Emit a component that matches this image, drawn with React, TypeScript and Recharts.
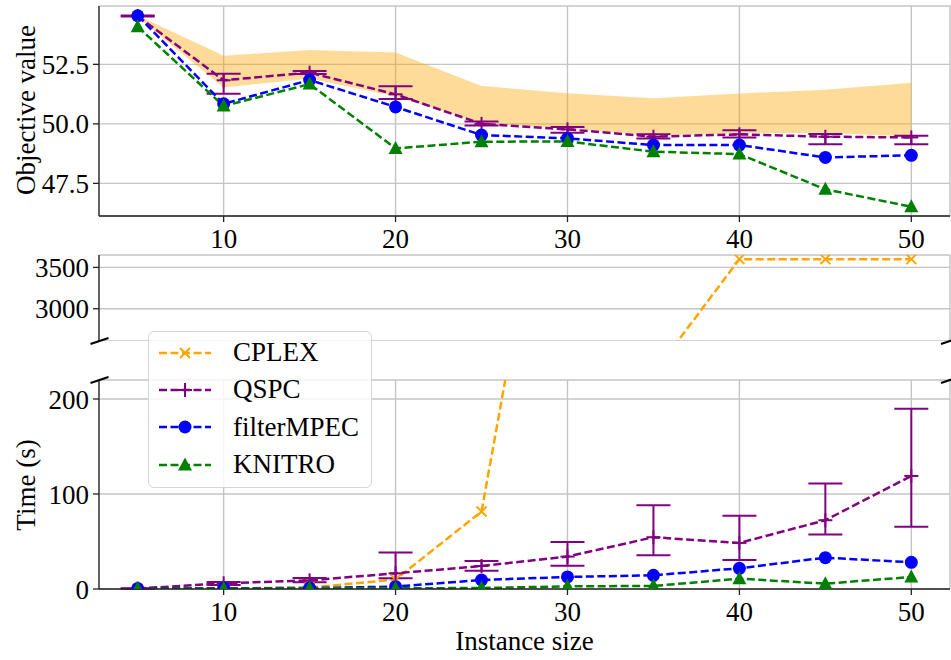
import {
  ComposedChart,
  Line,
  Area,
  XAxis,
  YAxis,
  CartesianGrid,
  ErrorBar,
  Label
} from "recharts"

const sizes = [5, 10, 15, 20, 25, 30, 35, 40, 45, 50]

// objective value panel
const cplexObjLow = [54.47, 51.53, 51.9, 51.15, 50.05, 49.8, 49.52, 49.6, 49.63, 49.47]
const cplexObjHigh = [54.55, 52.86, 53.1, 53.0, 51.59, 51.29, 51.08, 51.28, 51.43, 51.73]
const qspcObj = [54.53, 51.83, 52.15, 51.24, 50.0, 49.77, 49.46, 49.56, 49.46, 49.43]
const qspcObjLow = [54.51, 51.26, 52.09, 51.04, 49.93, 49.63, 49.39, 49.43, 49.14, 49.14]
const qspcObjHigh = [54.55, 52.1, 52.22, 51.58, 50.1, 49.87, 49.56, 49.73, 49.57, 49.5]
const filterObj = [54.54, 50.84, 51.84, 50.71, 49.53, 49.39, 49.11, 49.11, 48.59, 48.68]
const knitroObj = [54.08, 50.75, 51.67, 48.97, 49.25, 49.26, 48.83, 48.73, 47.25, 46.52]

// time panels (s)
const cplexTime = [0.3, 0.5, 1.5, 10, 81.5, 583, 2217, 3600, 3600, 3600]
const qspcTime = [0.5, 6.0, 9.1, 16.5, 24.2, 34.1, 54.5, 48.5, 72.4, 119]
const qspcTimeLow = [0.3, 4.2, 7.0, 11.2, 19.3, 24.6, 35.5, 30.6, 57.3, 65.4]
const qspcTimeHigh = [0.8, 7.4, 11.6, 38.3, 29.5, 49.6, 88.2, 77.0, 111, 189.8]
const filterTime = [0.5, 0.8, 1.0, 2.5, 9.5, 12.7, 14.4, 21.8, 33.0, 28.1]
const knitroTime = [0.3, 0.5, 0.7, 0.8, 1.0, 2.8, 3.2, 10.9, 5.6, 12.7]

const xTicks = [10, 20, 30, 40, 50]
const objTicks = [47.5, 50, 52.5]
const timeUpperTicks = [3000, 3500]
const timeLowerTicks = [0, 100, 200]

const X_DOMAIN = [2.75, 52.25]
const ORANGE = "#ffa500"
const PURPLE = "#800080"
const BLUE = "#0000ff"
const GREEN = "#008000"
const FONT = "'Liberation Serif', 'Times New Roman', serif"
const SPINE = "#222"
const GRID = "#c4c4c4"
const DASH = "8 3.5"

const objData = sizes.map((x, i) => ({
  x,
  band: [cplexObjLow[i], cplexObjHigh[i]],
  qspc: qspcObj[i],
  qspcErr: [qspcObj[i] - qspcObjLow[i], qspcObjHigh[i] - qspcObj[i]],
  filter: filterObj[i],
  knitro: knitroObj[i]
}))

const timeData = sizes.map((x, i) => ({
  x,
  cplex: cplexTime[i],
  qspc: qspcTime[i],
  qspcErr: [qspcTime[i] - qspcTimeLow[i], qspcTimeHigh[i] - qspcTime[i]],
  filter: filterTime[i],
  knitro: knitroTime[i]
}))

const XMark = ({ cx, cy }: any) => (
  <g stroke={ORANGE} strokeWidth={2}>
    <line x1={cx - 5} y1={cy - 5} x2={cx + 5} y2={cy + 5} />
    <line x1={cx - 5} y1={cy + 5} x2={cx + 5} y2={cy - 5} />
  </g>
)
const PlusMark = ({ cx, cy }: any) => (
  <g stroke={PURPLE} strokeWidth={2}>
    <line x1={cx - 7} y1={cy} x2={cx + 7} y2={cy} />
    <line x1={cx} y1={cy - 7} x2={cx} y2={cy + 7} />
  </g>
)
const CircleMark = ({ cx, cy }: any) => <circle cx={cx} cy={cy} r={6.5} fill={BLUE} />
const TriMark = ({ cx, cy }: any) => (
  <polygon points={`${cx},${cy - 7.5} ${cx + 7},${cy + 5.5} ${cx - 7},${cy + 5.5}`} fill={GREEN} />
)

const markers: Record<string, any> = { CPLEX: XMark, QSPC: PlusMark, filterMPEC: CircleMark, KNITRO: TriMark }
const legendItems = [
  { name: "CPLEX", color: ORANGE },
  { name: "QSPC", color: PURPLE },
  { name: "filterMPEC", color: BLUE },
  { name: "KNITRO", color: GREEN }
]

const dotOf = (name: string) => (p: any) => {
  const M = markers[name]
  return <M key={`${name}-${p.index}`} cx={p.cx} cy={p.cy} />
}

const tickStyle = { fontSize: 27, fill: "#000", fontFamily: FONT }

const title = (text: string, x: number, y: number, rotate = false) => () => (
  <text
    x={x}
    y={y}
    transform={rotate ? `rotate(-90 ${x} ${y})` : undefined}
    textAnchor="middle"
    dominantBaseline="central"
    fontSize={27}
    fontFamily={FONT}
    fill="#000"
  >
    {text}
  </text>
)

const series = (name: string, key: string, color: string, err?: boolean) => (
  <Line
    key={name}
    name={name}
    xAxisId="b"
    yAxisId="l"
    type="linear"
    dataKey={key}
    stroke={color}
    strokeWidth={2.5}
    strokeDasharray={DASH}
    dot={dotOf(name)}
    activeDot={false}
    isAnimationActive={false}
  >
    {err && <ErrorBar dataKey="qspcErr" direction="y" width={17} stroke={PURPLE} strokeWidth={2} />}
  </Line>
)

function ObjectivePanel() {
  return (
    <ComposedChart width={951} height={260} data={objData} margin={{ top: 6, right: 1, bottom: 0, left: 0 }}>
      <CartesianGrid xAxisId="b" yAxisId="l" stroke={GRID} strokeWidth={1.4} />
      <XAxis xAxisId="b" type="number" dataKey="x" domain={X_DOMAIN} ticks={xTicks} allowDataOverflow
        height={44} tickSize={6} tickMargin={7} tick={tickStyle} stroke={SPINE} strokeWidth={1.3} />
      <XAxis xAxisId="t" orientation="top" type="number" dataKey="x" domain={X_DOMAIN} allowDataOverflow
        height={0} tick={false} tickLine={false} stroke={SPINE} strokeWidth={1.3} />
      <YAxis yAxisId="l" type="number" domain={[46.13, 54.95]} ticks={objTicks} allowDataOverflow
        width={99} tickSize={6} tickMargin={4} tick={tickStyle} tickFormatter={(v: number) => v.toFixed(1)}
        stroke={SPINE} strokeWidth={1.3}>
        <Label content={title("Objective value", 26, 110, true)} />
      </YAxis>
      <YAxis yAxisId="r" orientation="right" type="number" domain={[46.13, 54.95]} allowDataOverflow
        width={0} tick={false} tickLine={false} stroke={SPINE} strokeWidth={1.3} />
      <Area xAxisId="b" yAxisId="l" type="linear" dataKey="band" fill={ORANGE} fillOpacity={0.4}
        stroke="none" dot={false} activeDot={false} isAnimationActive={false} />
      {series("QSPC", "qspc", PURPLE, true)}
      {series("filterMPEC", "filter", BLUE)}
      {series("KNITRO", "knitro", GREEN)}
    </ComposedChart>
  )
}

function TimeUpperPanel() {
  return (
    <ComposedChart width={951} height={91} data={timeData} margin={{ top: 5, right: 1, bottom: 0, left: 0 }}>
      <CartesianGrid xAxisId="b" yAxisId="l" stroke={GRID} strokeWidth={1.4} />
      <XAxis xAxisId="b" type="number" dataKey="x" domain={X_DOMAIN} ticks={xTicks} allowDataOverflow
        height={0} tick={false} tickLine={false} axisLine={false} />
      <XAxis xAxisId="t" orientation="top" type="number" dataKey="x" domain={X_DOMAIN} allowDataOverflow
        height={0} tick={false} tickLine={false} stroke={SPINE} strokeWidth={1.3} />
      <YAxis yAxisId="l" type="number" domain={[2610, 3650]} ticks={timeUpperTicks} allowDataOverflow
        width={99} tickSize={6} tickMargin={4} tick={tickStyle} stroke={SPINE} strokeWidth={1.3} />
      <YAxis yAxisId="r" orientation="right" type="number" domain={[2610, 3650]} allowDataOverflow
        width={0} tick={false} tickLine={false} stroke={SPINE} strokeWidth={1.3} />
      {series("CPLEX", "cplex", ORANGE)}
    </ComposedChart>
  )
}

function TimeLowerPanel() {
  return (
    <ComposedChart width={951} height={360} data={timeData} margin={{ top: 80, right: 1, bottom: 0, left: 0 }}>
      <CartesianGrid xAxisId="b" yAxisId="l" stroke={GRID} strokeWidth={1.4} />
      <XAxis xAxisId="b" type="number" dataKey="x" domain={X_DOMAIN} ticks={xTicks} allowDataOverflow
        height={71} tickSize={6} tickMargin={7} tick={tickStyle} stroke={SPINE} strokeWidth={1.3}>
        <Label content={title("Instance size", 524.5, 341)} />
      </XAxis>
      <YAxis yAxisId="l" type="number" domain={[0, 220]} ticks={timeLowerTicks} allowDataOverflow
        width={99} tickSize={6} tickMargin={4} tick={tickStyle} stroke={SPINE} strokeWidth={1.3}>
        <Label content={title("Time (s)", 26, 185, true)} />
      </YAxis>
      <YAxis yAxisId="r" orientation="right" type="number" domain={[0, 220]} allowDataOverflow
        width={0} tick={false} tickLine={false} stroke={SPINE} strokeWidth={1.3} />
      {series("CPLEX", "cplex", ORANGE)}
      {series("QSPC", "qspc", PURPLE, true)}
      {series("filterMPEC", "filter", BLUE)}
      {series("KNITRO", "knitro", GREEN)}
    </ComposedChart>
  )
}

function LegendBox() {
  return (
    <div
      style={{
        position: "absolute",
        left: 148,
        top: 331,
        width: 224,
        height: 157,
        boxSizing: "border-box",
        border: "1.5px solid #d6d6d6",
        borderRadius: 6,
        background: "rgba(255,255,255,0.8)",
        paddingTop: 2
      }}
    >
      {legendItems.map((it) => {
        const M = markers[it.name]
        return (
          <div key={it.name} style={{ height: 37.3, display: "flex", alignItems: "center" }}>
            <svg width={54} height={20} style={{ marginLeft: 9 }}>
              <line x1={1} y1={10} x2={53} y2={10} stroke={it.color} strokeWidth={2.5} strokeDasharray={DASH} />
              <M cx={27} cy={10} />
            </svg>
            <span style={{ marginLeft: 21, fontFamily: FONT, fontSize: 27, lineHeight: "27px", color: "#000" }}>
              {it.name}
            </span>
          </div>
        )
      })}
    </div>
  )
}

function BreakMarks() {
  const marks = [
    [99.5, 341],
    [950, 341],
    [99.5, 380],
    [950, 380]
  ]
  return (
    <svg width={951} height={660} style={{ position: "absolute", left: 0, top: 0, pointerEvents: "none" }}>
      {marks.map(([x, y], i) => (
        <line key={i} x1={x - 9} y1={y + 3} x2={x + 9} y2={y - 3} stroke="#000" strokeWidth={2} />
      ))}
    </svg>
  )
}

export default function App() {
  return (
    <div style={{ position: "absolute", left: 0, top: 0, width: 951, height: 660, background: "#fff", fontFamily: FONT }}>
      <div style={{ position: "absolute", left: 0, top: 0 }}>
        <ObjectivePanel />
      </div>
      <div style={{ position: "absolute", left: 0, top: 250 }}>
        <TimeUpperPanel />
      </div>
      <div style={{ position: "absolute", left: 0, top: 300 }}>
        <TimeLowerPanel />
      </div>
      <BreakMarks />
      <LegendBox />
    </div>
  )
}
